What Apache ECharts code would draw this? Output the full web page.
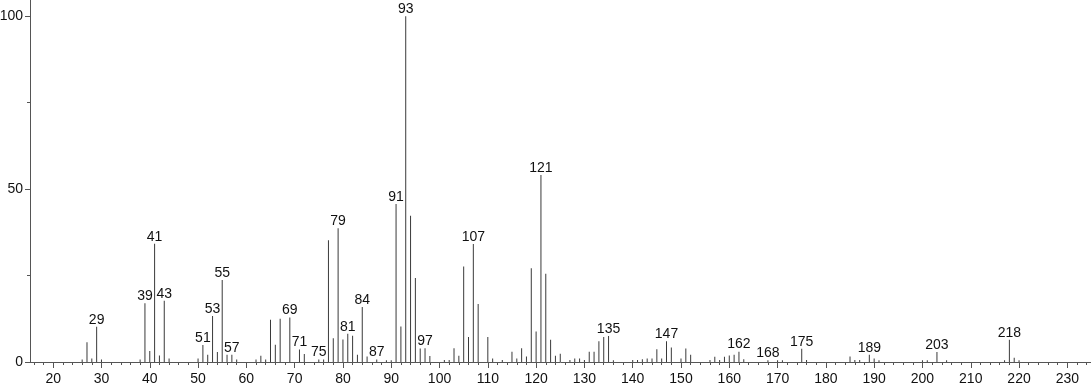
<!DOCTYPE html>
<html>
<head>
<meta charset="utf-8">
<script src="https://cdn.jsdelivr.net/npm/echarts@6/dist/echarts.min.js"></script>
<style>
html,body{margin:0;padding:0;background:#fff;}
#chart{width:1091px;height:387px;}
</style>
</head>
<body>
<div id="chart"></div>
<script>
const mz = [26,27,28,29,30,38,39,40,41,42,43,44,50,51,52,53,54,55,56,57,58,62,63,64,65,66,67,69,71,72,75,76,77,78,79,80,81,82,83,84,85,87,89,90,91,92,93,94,95,96,97,98,101,102,103,104,105,106,107,108,110,111,113,115,116,117,118,119,120,121,122,123,124,125,127,128,129,130,131,132,133,134,135,136,140,141,142,143,144,145,146,147,148,150,151,152,156,157,158,159,160,161,162,163,168,170,171,175,176,185,186,187,189,190,191,200,201,203,205,217,218,219,220];
const intensity = [0.7,5.7,1.0,10.2,0.7,0.7,17.0,3.2,34.2,1.9,17.7,1.0,1.0,4.9,2.1,13.3,2.9,23.7,2.1,2.1,0.7,0.7,1.8,0.7,12.2,5.0,12.5,12.9,3.6,2.3,0.7,0.7,35.2,6.9,38.7,6.5,8.2,7.6,2.1,15.9,1.6,0.7,0.5,0.5,45.7,10.3,100,42.3,24.3,3.9,4.0,1.7,0.6,0.6,4.0,1.8,27.6,7.2,34.1,16.8,7.2,1.0,0.6,3.0,1.0,4.0,1.6,27.1,8.8,54.1,25.5,6.4,1.8,2.4,0.6,1.0,1.0,0.6,3.0,3.0,6.0,7.2,7.5,0.5,0.6,0.6,0.8,1.0,1.0,3.7,1.0,6.0,4.2,1.0,3.9,2.1,0.6,1.5,0.6,1.5,1.9,2.1,3.0,0.8,0.5,0.5,0.5,3.8,0.6,1.6,0.6,0.6,2.1,1.0,0.5,0.5,0.5,2.9,0.5,0.5,6.4,1.2,0.5];
const labeledPeaks = [29,39,41,43,51,53,55,57,69,71,75,79,81,84,87,91,93,97,107,121,135,147,162,168,175,189,203,218];
const xMajorTicks = [20,30,40,50,60,70,80,90,100,110,120,130,140,150,160,170,180,190,200,210,220,230];
const xMinorTicks = [];
for (let v = 16; v <= 234; v += 2) { if (v % 10 !== 0) xMinorTicks.push(v); }
const yMajorTicks = [0,50,100];
const yMinorTicks = [25,75];

const chart = echarts.init(document.getElementById('chart'), null, {renderer:'canvas'});
const data = mz.map((m,i) => {
  const item = {value:[m, intensity[i]]};
  if (labeledPeaks.includes(m)) item.label = {show:true};
  return item;
});
const axisColor = '#555';
const font = 'Liberation Sans, Arial, sans-serif';
chart.setOption({
  animation:false,
  grid:[{left:30,right:0,top:0,bottom:25,containLabel:false,outerBoundsMode:'none'}],
  xAxis:[{
    type:'value', min:15.2, max:234.9, gridIndex:0,
    axisLine:{show:true,onZero:false,lineStyle:{color:axisColor,width:1}},
    axisTick:{show:true,length:6,customValues:xMajorTicks,lineStyle:{color:axisColor}},
    axisLabel:{customValues:xMajorTicks,color:'#111',fontSize:14,fontFamily:font,margin:10},
    splitLine:{show:false}
  },{
    type:'value', min:15.2, max:234.9, gridIndex:0, position:'bottom',
    axisLine:{show:false},
    axisTick:{show:true,length:3,customValues:xMinorTicks,lineStyle:{color:axisColor}},
    axisLabel:{show:false},
    splitLine:{show:false}
  }],
  yAxis:[{
    type:'value', min:0, max:104.7,
    axisLine:{show:true,lineStyle:{color:axisColor,width:1}},
    axisTick:{show:true,length:5,customValues:yMajorTicks,lineStyle:{color:axisColor}},
    axisLabel:{customValues:yMajorTicks,color:'#111',fontSize:14,fontFamily:font,margin:7},
    splitLine:{show:false}
  },{
    type:'value', min:0, max:104.7, position:'left',
    axisLine:{show:false},
    axisTick:{show:true,length:3,customValues:yMinorTicks,lineStyle:{color:axisColor}},
    axisLabel:{show:false},
    splitLine:{show:false}
  }],
  series:[{
    type:'bar',
    xAxisIndex:0, yAxisIndex:0,
    barWidth:1,
    itemStyle:{color:'#3a3a3a'},
    label:{show:false,position:'top',distance:0,color:'#111',fontSize:14,fontFamily:font,
      formatter:p => String(p.value[0])},
    data:data
  }]
});
</script>
</body>
</html>
